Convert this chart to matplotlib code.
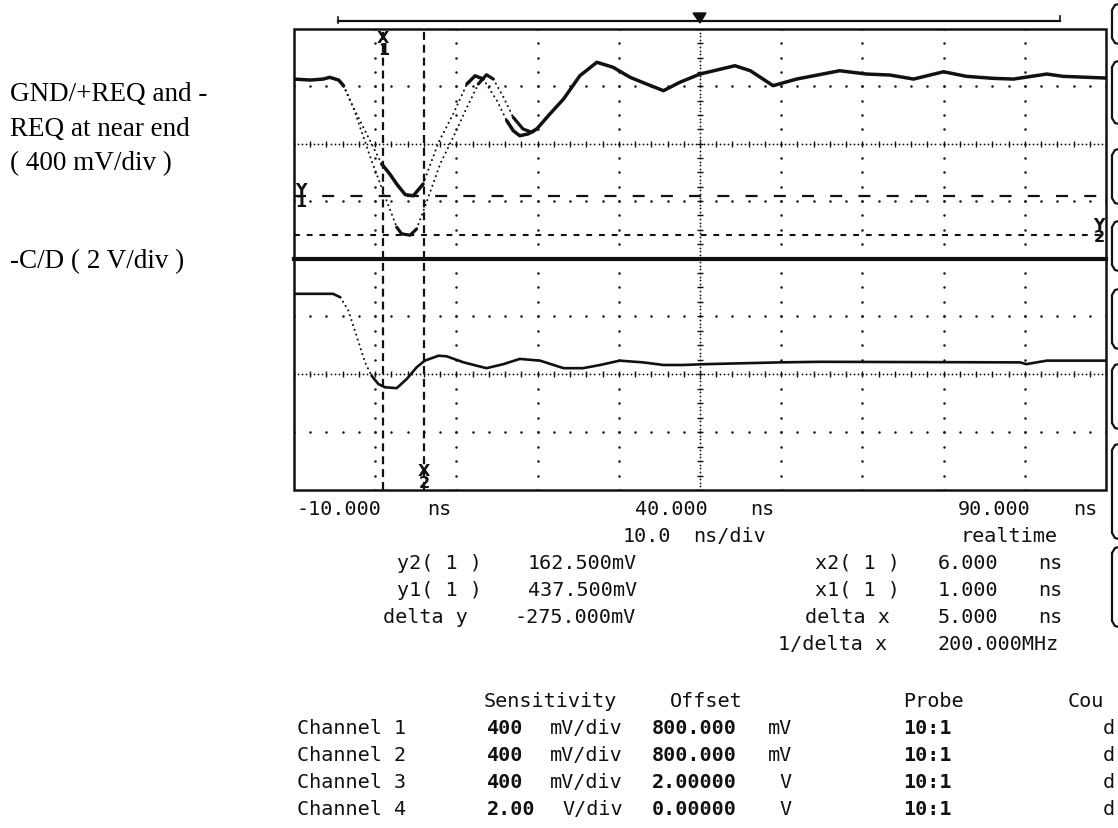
import numpy as np
import matplotlib
matplotlib.use("Agg")
import matplotlib.pyplot as plt
from matplotlib.lines import Line2D
from matplotlib.patches import Polygon, Rectangle
from matplotlib.transforms import blended_transform_factory

W, H, DPI = 1118, 829, 100

# timebase (ns) and channel scaling
t_left, t_right, ns_per_div = -10.0, 90.0, 10.0
ch1_offset_mv, ch1_mv_per_div = 800.0, 400.0
ch4_offset_v, ch4_v_per_div = 0.0, 2.0

# cursor settings
x1_ns, x2_ns = 1.0, 6.0
y1_mv, y2_mv = 437.5, 162.5

# near-end REQ pair (mV): common lead-in, separate edges, common settled tail
lead_t = [-10.0, -8.0, -6.4, -5.6, -4.5, -3.9]
lead_mv = [1251, 1244, 1251, 1263, 1244, 1205]

reqp_t = [-2.9, -1.05, 0.8, 1.8, 2.65, 3.7, 4.7, 5.9, 7.8, 9.6, 11.3, 12.3,
          13.3, 15.0, 16.2, 17.0, 17.8, 18.8]
reqp_mv = [1077, 868, 659, 589, 519, 445, 437.5, 519, 810, 1007, 1217, 1274,
           1251, 1100, 961, 891, 856, 868]

reqn_t = [-2.7, -0.45, 1.4, 2.65, 3.25, 4.3, 5.1, 6.1, 8.0, 9.6, 11.3, 12.7,
          13.7, 14.55, 15.8, 17.0, 18.2, 19.3]
reqn_mv = [1054, 682, 403, 218, 172, 162.5, 206, 357, 659, 845, 1054, 1217,
           1281, 1251, 1124, 984, 903, 880]

tail_t = [19.9, 21.5, 23.2, 25.2, 27.3, 29.3, 31.4, 33.4, 35.5, 37.5, 40.0,
          44.3, 46.2, 49.0, 51.9, 57.2, 60.5, 63.4, 66.3, 70.0, 72.8, 76.1,
          78.6, 82.7, 84.7, 90.0]
tail_mv = [903, 1007, 1112, 1274, 1368, 1333, 1263, 1217, 1170, 1228, 1286,
           1344, 1309, 1205, 1251, 1309, 1286, 1279, 1251, 1302, 1270, 1256,
           1251, 1286, 1270, 1258]

# -C/D (V)
cd_t = [-10.0, -5.2, -4.3, -3.3, -2.3, -1.25, -0.45, 0.4, 1.2, 2.65, 3.9, 5.1,
        6.1, 7.8, 8.8, 10.9, 13.7, 15.8, 17.8, 20.3, 23.2, 25.6, 27.7, 30.1,
        33.0, 35.5, 37.9, 40.8, 49.8, 54.8, 79.4, 80.2, 82.7, 90.0]
cd_v = [2.78, 2.78, 2.66, 2.20, 1.33, 0.41, -0.05, -0.34, -0.45, -0.48, -0.16,
        0.24, 0.47, 0.64, 0.62, 0.41, 0.21, 0.35, 0.53, 0.47, 0.21, 0.21, 0.32,
        0.47, 0.41, 0.32, 0.32, 0.35, 0.41, 0.43, 0.41, 0.35, 0.47, 0.47]

# channel setup table
ch_names = ["Channel 1", "Channel 2", "Channel 3", "Channel 4"]
ch_sens = ["400", "400", "400", "2.00"]
ch_sens_unit = ["mV/div", "mV/div", "mV/div", "V/div"]
ch_offset = ["800.000", "800.000", "2.00000", "0.00000"]
ch_offset_unit = ["mV", "mV", "V", "V"]
ch_probe = ["10:1", "10:1", "10:1", "10:1"]
ch_coupling = ["d", "d", "d", "d"]

INK = "#111111"
MONO = "DejaVu Sans Mono"


def fx(px):
    return px / W


def fy(py):
    return 1.0 - py / H


fig = plt.figure(figsize=(W / DPI, H / DPI), dpi=DPI)
fig.patch.set_facecolor("white")

# screen geometry (pixels)
L, R, TOP, MID, BOT = 294, 1106, 30, 259.5, 491

ax_top = fig.add_axes([fx(L), fy(MID), (R - L) / W, (MID - TOP) / H])
ax_bot = fig.add_axes([fx(L), fy(BOT), (R - L) / W, (BOT - MID) / H])
ax_top.set_xlim(t_left, t_right)
ax_bot.set_xlim(t_left, t_right)
ax_top.set_ylim(ch1_offset_mv - 2 * ch1_mv_per_div, ch1_offset_mv + 2 * ch1_mv_per_div)
ax_bot.set_ylim(ch4_offset_v - 2 * ch4_v_per_div, ch4_offset_v + 2 * ch4_v_per_div)
for ax in (ax_top, ax_bot):
    ax.set_axis_off()


def graticule(ax, center, per_div):
    lo, hi = center - 2 * per_div, center + 2 * per_div
    t_mid = (t_left + t_right) / 2
    dot = dict(ls="none", marker="o", ms=1.8, mew=0, color=INK)
    ys = np.arange(lo, hi + 1e-9, per_div / 4)
    for t in np.arange(t_left + ns_per_div, t_right - 1e-9, ns_per_div):
        if abs(t - t_mid) < 1e-9:
            continue
        ax.plot(np.full_like(ys, t), ys, **dot)
    ts = np.arange(t_left, t_right + 1e-9, ns_per_div / 5)
    for y in (center - per_div, center + per_div):
        ax.plot(ts, np.full_like(ts, y), **dot)
    # centre axes with fine ticks
    fine_t = np.arange(t_left, t_right + 1e-9, ns_per_div / 20)
    ax.plot(fine_t, np.full_like(fine_t, center), ls="none", marker="o",
            ms=1.3, mew=0, color=INK)
    ax.plot(ts, np.full_like(ts, center), ls="none", marker="|", ms=4.5,
            mew=1.0, color=INK)
    fine_y = np.arange(lo, hi + 1e-9, per_div / 16)
    ax.plot(np.full_like(fine_y, t_mid), fine_y, ls="none", marker="o",
            ms=1.3, mew=0, color=INK)
    ax.plot(np.full_like(ys, t_mid), ys, ls="none", marker="_", ms=4.5,
            mew=1.0, color=INK)


graticule(ax_top, ch1_offset_mv, ch1_mv_per_div)
graticule(ax_bot, ch4_offset_v, ch4_v_per_div)


def draw_trace(ax, t, v, lw):
    """Slow parts of the sweep render solid, fast edges as sparse dots."""
    t = np.asarray(t, float)
    v = np.asarray(v, float)
    xy = ax.transData.transform(np.column_stack([t, v]))
    d = np.diff(xy, axis=0)
    steep = np.abs(d[:, 1]) > 1.55 * np.abs(d[:, 0])
    start = 0
    n = len(steep)
    for i in range(1, n + 1):
        if i == n or steep[i] != steep[start]:
            seg = slice(start, i + 1)
            if steep[start]:
                ax.plot(t[seg], v[seg], color=INK, lw=1.5, ls=(0, (0.05, 2.4)),
                        dash_capstyle="round")
            else:
                ax.plot(t[seg], v[seg], color=INK, lw=lw,
                        solid_capstyle="round", solid_joinstyle="round")
            start = i


draw_trace(ax_top, lead_t + reqp_t + tail_t, lead_mv + reqp_mv + tail_mv, 2.5)
draw_trace(ax_top, lead_t[-1:] + reqn_t + tail_t[:1], lead_mv[-1:] + reqn_mv + tail_mv[:1], 2.3)
draw_trace(ax_bot, cd_t, cd_v, 1.9)

# cursors
for ax in (ax_top, ax_bot):
    for xc in (x1_ns, x2_ns):
        ax.axvline(xc, color=INK, lw=1.6, dashes=(3.6, 2.2))
ax_top.axhline(y1_mv, color=INK, lw=1.6, dashes=(5.4, 7.3))
ax_top.axhline(y2_mv, color=INK, lw=1.5, dashes=(2.8, 3.3))

lab = dict(color=INK, fontsize=11.5, fontweight="bold", family="DejaVu Sans",
           linespacing=0.75)
bt = blended_transform_factory(ax_top.transData, ax_top.transAxes)
ax_top.text(x1_ns, 0.995, "X\n1", transform=bt, ha="center", va="top", **lab)
bb = blended_transform_factory(ax_bot.transData, ax_bot.transAxes)
ax_bot.text(x2_ns, 0.0, "X\n2", transform=bb, ha="center", va="bottom", **lab)
bl = blended_transform_factory(ax_top.transAxes, ax_top.transData)
ax_top.text(0.002, y1_mv, "Y\n1", transform=bl, ha="left", va="center", **lab)
ax_top.text(0.998, y2_mv + 35, "Y\n2", transform=bl, ha="right", va="center", **lab)

# screen frame and split line
fig.add_artist(Rectangle((fx(L), fy(BOT)), (R - L) / W, (BOT - TOP) / H,
                         transform=fig.transFigure, fill=False, lw=1.8,
                         edgecolor=INK))
fig.add_artist(Line2D([fx(L), fx(R)], [fy(MID), fy(MID)], lw=3.0, color=INK))

# timebase window bar with trigger marker
fig.add_artist(Line2D([fx(338), fx(1060)], [fy(21.5), fy(21.5)], lw=1.6, color=INK))
fig.add_artist(Line2D([fx(338), fx(338)], [fy(18), fy(24)], lw=1.2, color=INK))
fig.add_artist(Line2D([fx(1060), fx(1060)], [fy(17), fy(22)], lw=1.2, color=INK))
trig_px = ax_top.transData.transform(((t_left + t_right) / 2, 0))[0]
fig.add_artist(Polygon([(fx(trig_px - 7), fy(14)), (fx(trig_px + 6), fy(14)),
                        (fx(trig_px), fy(24))], closed=True,
                       transform=fig.transFigure, facecolor=INK, edgecolor=INK))

# soft-key brackets at the right border
for ya, yb in [(5, 45), (62, 125), (150, 205), (222, 272), (290, 350),
               (365, 430), (445, 540), (548, 628)]:
    xs = [1119, 1115, 1112, 1112, 1115, 1119]
    yy = [ya, ya + 1, ya + 6, yb - 6, yb - 1, yb]
    fig.add_artist(Line2D([fx(x) for x in xs], [fy(y) for y in yy], lw=1.6,
                          color=INK))


def scope_text(px, py, s, bold=False, ha="left"):
    fig.text(fx(px), fy(py + 7), s, ha=ha, va="baseline", family=MONO,
             fontsize=14.5, color=INK, fontweight="bold" if bold else "normal")


# time axis annotation
row = 508
scope_text(297, row, f"{t_left:.3f}")
scope_text(427, row, "ns")
scope_text(635, row, f"{(t_left + t_right) / 2:.3f}")
scope_text(750, row, "ns")
scope_text(958, row, f"{t_right:.3f}")
scope_text(1073, row, "ns")
row = 535
scope_text(623, row, f"{ns_per_div:.1f}")
scope_text(693, row, "ns/div")
scope_text(960, row, "realtime")

# cursor readouts
scope_text(397, 562, "y2( 1 )")
scope_text(528, 562, f"{y2_mv:.3f}mV")
scope_text(397, 589, "y1( 1 )")
scope_text(528, 589, f"{y1_mv:.3f}mV")
scope_text(383, 616, "delta y")
scope_text(514, 616, f"{y2_mv - y1_mv:.3f}mV")
scope_text(815, 562, "x2( 1 )")
scope_text(938, 562, f"{x2_ns:.3f}")
scope_text(1038, 562, "ns")
scope_text(815, 589, "x1( 1 )")
scope_text(938, 589, f"{x1_ns:.3f}")
scope_text(1038, 589, "ns")
scope_text(805, 616, "delta x")
scope_text(938, 616, f"{x2_ns - x1_ns:.3f}")
scope_text(1038, 616, "ns")
scope_text(778, 643, "1/delta x")
scope_text(938, 643, f"{1e3 / (x2_ns - x1_ns):.3f}MHz")

# channel setup table
scope_text(484, 700, "Sensitivity")
scope_text(670, 700, "Offset")
scope_text(903, 700, "Probe")
scope_text(1068, 700, "Cou")
for i in range(4):
    py = 727 + 27 * i
    scope_text(297, py, ch_names[i])
    scope_text(487, py, ch_sens[i], bold=True)
    scope_text(623, py, ch_sens_unit[i], ha="right")
    scope_text(652, py, ch_offset[i], bold=True)
    scope_text(792, py, ch_offset_unit[i], ha="right")
    scope_text(903, py, ch_probe[i], bold=True)
    scope_text(1103, py, ch_coupling[i])

# channel descriptions
serif = dict(family="Liberation Serif", fontsize=19.5, color="black",
             ha="left", va="baseline")
fig.text(fx(10), fy(101), "GND/+REQ and -", **serif)
fig.text(fx(10), fy(135.5), "REQ at near end", **serif)
fig.text(fx(10), fy(170), "( 400 mV/div )", **serif)
fig.text(fx(10), fy(268.5), "-C/D ( 2 V/div )", **serif)

fig.savefig("out.png", dpi=DPI)
